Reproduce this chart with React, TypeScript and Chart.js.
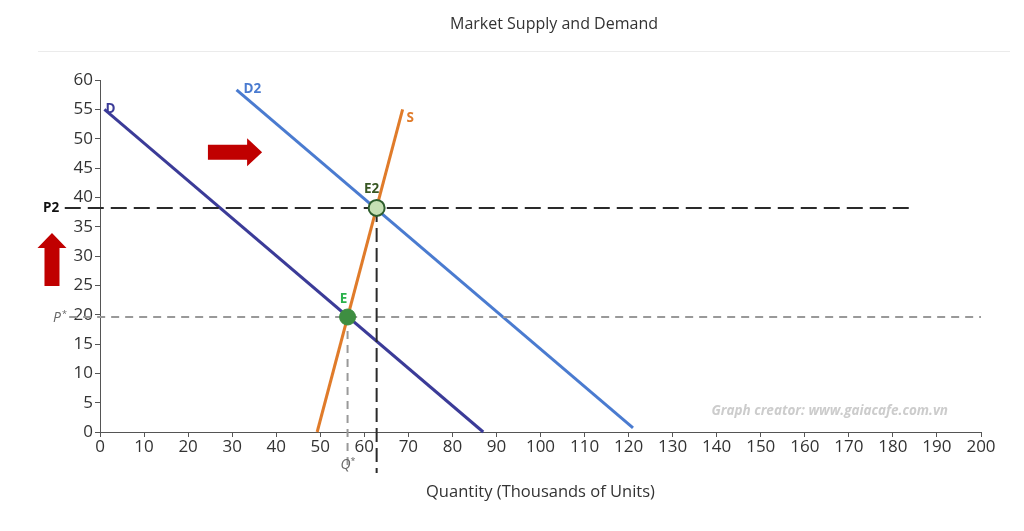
import React, { useEffect, useRef } from "react";
import { Chart, registerables } from "chart.js";

Chart.register(...registerables);

// ---- data ----
const demandD = [
  { x: 1, y: 55 },
  { x: 87, y: 0 },
];
const demandD2 = [
  { x: 31, y: 58.3 },
  { x: 121, y: 0.7 },
];
const supplyS = [
  { x: 49.3, y: 0 },
  { x: 68.7, y: 55 },
];
const equilibriumE = [{ x: 56.2, y: 19.6 }];
const equilibriumE2 = [{ x: 62.8, y: 38.2 }];
const pStarLine = [
  { x: -7, y: 19.6 },
  { x: 200, y: 19.6 },
];
const p2Line = [
  { x: -8, y: 38.2 },
  { x: 185, y: 38.2 },
];
const qStarLine = [
  { x: 56.2, y: 19.6 },
  { x: 56.2, y: -6.5 },
];
const q2Line = [
  { x: 62.8, y: 38.2 },
  { x: 62.8, y: -7 },
];
const xTicksMin = 0;
const xTicksMax = 200;
const xStep = 10;
const yTicksMin = 0;
const yTicksMax = 60;
const yStep = 5;
// arrows: shift of demand (horizontal) and price rise (vertical), in data units
const arrowRight = { x0: 24.5, x1: 36.8, y: 47.7 };
const arrowUp = { x: -10.9, y0: 24.9, y1: 33.9 };

const FONT = "'Open Sans', 'Noto Sans', sans-serif";

export default function App() {
  const ref = useRef<HTMLCanvasElement | null>(null);

  useEffect(() => {
    if (!ref.current) return;

    const decor = {
      id: "decor",
      beforeDraw(chart: any) {
        const ctx = chart.ctx;
        ctx.save();
        ctx.fillStyle = "#ffffff";
        ctx.fillRect(0, 0, chart.width, chart.height);
        ctx.fillStyle = "#333333";
        ctx.font = `16px ${FONT}`;
        ctx.textAlign = "center";
        ctx.textBaseline = "middle";
        ctx.fillText("Market Supply and Demand", 554, 24);
        ctx.strokeStyle = "#ebebeb";
        ctx.lineWidth = 1;
        ctx.beginPath();
        ctx.moveTo(38, 51.5);
        ctx.lineTo(1010, 51.5);
        ctx.stroke();
        ctx.restore();
      },
      afterDatasetsDraw(chart: any) {
        const ctx = chart.ctx;
        const xs = chart.scales.x;
        const ys = chart.scales.y;
        const px = (v: number) => xs.getPixelForValue(v);
        const py = (v: number) => ys.getPixelForValue(v);
        ctx.save();
        ctx.textBaseline = "middle";
        ctx.textAlign = "left";

        // watermark
        ctx.font = `italic bold 13.5px ${FONT}`;
        ctx.fillStyle = "#cccccc";
        ctx.textAlign = "right";
        ctx.fillText("Graph creator: www.gaiacafe.com.vn", 948, 411);

        // line labels
        ctx.textAlign = "left";
        ctx.font = `bold 13.5px ${FONT}`;
        ctx.fillStyle = "#3b3b98";
        ctx.fillText("D", px(demandD[0].x) + 1, py(demandD[0].y));
        ctx.fillStyle = "#4a7bd0";
        ctx.fillText("D2", px(demandD2[0].x) + 7, py(demandD2[0].y) - 1);
        ctx.fillStyle = "#e07b2a";
        ctx.fillText("S", px(supplyS[1].x) + 4, py(supplyS[1].y) + 9);
        ctx.textAlign = "center";
        ctx.fillStyle = "#2bb24c";
        ctx.fillText("E", px(equilibriumE[0].x) - 4, py(equilibriumE[0].y) - 18);
        ctx.fillStyle = "#385723";
        ctx.fillText("E2", px(equilibriumE2[0].x) - 5, py(equilibriumE2[0].y) - 19);
        ctx.fillStyle = "#111111";
        ctx.fillText("P2", 51, py(p2Line[0].y));

        // P* and Q*
        ctx.fillStyle = "#666666";
        ctx.font = `italic 14px ${FONT}`;
        ctx.fillText("P", 57, py(pStarLine[0].y) + 1);
        ctx.fillText("Q", px(qStarLine[0].x) - 2, 465);
        ctx.font = `9px ${FONT}`;
        ctx.fillText("*", 64.5, py(pStarLine[0].y) - 3);
        ctx.fillText("*", px(qStarLine[0].x) + 5.5, 461);

        // arrows
        ctx.fillStyle = "#c00000";
        // right arrow
        {
          const x0 = px(arrowRight.x0);
          const x1 = px(arrowRight.x1);
          const y = py(arrowRight.y);
          const head = 15;
          const hh = 14;
          const bh = 7.5;
          ctx.beginPath();
          ctx.moveTo(x0, y - bh);
          ctx.lineTo(x1 - head, y - bh);
          ctx.lineTo(x1 - head, y - hh);
          ctx.lineTo(x1, y);
          ctx.lineTo(x1 - head, y + hh);
          ctx.lineTo(x1 - head, y + bh);
          ctx.lineTo(x0, y + bh);
          ctx.closePath();
          ctx.fill();
        }
        // up arrow
        {
          const x = px(arrowUp.x);
          const y0 = py(arrowUp.y0);
          const y1 = py(arrowUp.y1);
          const head = 15;
          const hw = 14.5;
          const bw = 7.5;
          ctx.beginPath();
          ctx.moveTo(x - bw, y0);
          ctx.lineTo(x - bw, y1 + head);
          ctx.lineTo(x - hw, y1 + head);
          ctx.lineTo(x, y1);
          ctx.lineTo(x + hw, y1 + head);
          ctx.lineTo(x + bw, y1 + head);
          ctx.lineTo(x + bw, y0);
          ctx.closePath();
          ctx.fill();
        }
        ctx.restore();
      },
    };

    const lineDs = (data: any, color: string, width: number, dash: number[] | undefined, order: number) => ({
      data,
      showLine: true,
      borderColor: color,
      borderWidth: width,
      borderDash: dash || [],
      pointRadius: 0,
      pointHoverRadius: 0,
      fill: false,
      clip: false as any,
      order,
    });

    const chart = new Chart(ref.current, {
      type: "scatter",
      data: {
        datasets: [
          {
            data: equilibriumE2,
            pointRadius: 8,
            pointBackgroundColor: "#c6e0b4",
            pointBorderColor: "#2e5e2e",
            pointBorderWidth: 2,
            order: 0,
            clip: false as any,
          },
          {
            data: equilibriumE,
            pointRadius: 8,
            pointBackgroundColor: "#3e8e41",
            pointBorderColor: "#3e8e41",
            pointBorderWidth: 1,
            order: 1,
            clip: false as any,
          },
          lineDs(p2Line, "#2a2a2a", 2, [16, 7], 2),
          lineDs(q2Line, "#2a2a2a", 2, [14, 6], 3),
          lineDs(pStarLine, "#999999", 2, [8, 6], 4),
          lineDs(qStarLine, "#999999", 2, [8, 6], 5),
          lineDs(supplyS, "#e07b2a", 3, undefined, 6),
          lineDs(demandD2, "#4a7bd0", 3, undefined, 7),
          lineDs(demandD, "#3b3b98", 3, undefined, 8),
        ] as any,
      },
      options: {
        animation: false,
        responsive: true,
        maintainAspectRatio: false,
        layout: { padding: { top: 80, right: 43, bottom: 25, left: 0 } },
        plugins: {
          legend: { display: false },
          title: { display: false },
          tooltip: { enabled: false },
        },
        scales: {
          x: {
            type: "linear",
            min: xTicksMin,
            max: xTicksMax,
            afterFit: (s: any) => {
              s.height = 74;
            },
            ticks: {
              stepSize: xStep,
              padding: 0,
              color: "#333333",
              font: { family: FONT, size: 17 },
            },
            grid: { display: true, drawOnChartArea: false, drawTicks: true, tickLength: 5, color: "#555555" },
            border: { display: true, color: "#555555", width: 1 },
            title: {
              display: true,
              text: "Quantity (Thousands of Units)",
              color: "#333333",
              font: { family: FONT, size: 16.5 },
            },
          },
          y: {
            type: "linear",
            min: yTicksMin,
            max: yTicksMax,
            afterFit: (s: any) => {
              s.width = 100;
            },
            ticks: {
              stepSize: yStep,
              padding: 2,
              color: "#333333",
              font: { family: FONT, size: 17 },
            },
            grid: { display: true, drawOnChartArea: false, drawTicks: true, tickLength: 5, color: "#555555" },
            border: { display: true, color: "#555555", width: 1 },
          },
        },
      },
      plugins: [decor],
    });

    return () => chart.destroy();
  }, []);

  return (
    <div style={{ position: "fixed", left: 0, top: 0, width: 1024, height: 531 }}>
      <canvas ref={ref} />
    </div>
  );
}
